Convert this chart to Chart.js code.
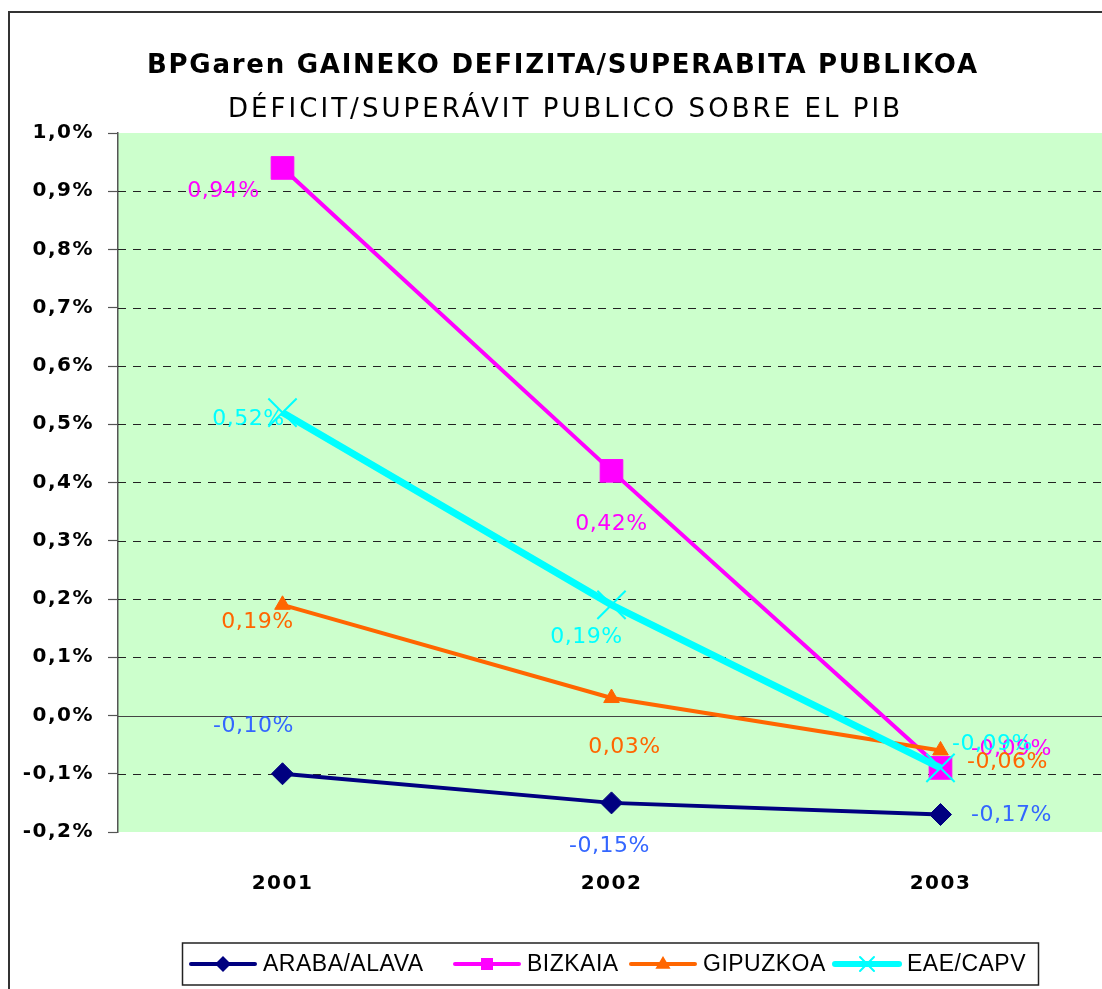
<!DOCTYPE html>
<html><head><meta charset="utf-8">
<script src="https://cdn.jsdelivr.net/npm/chart.js@4/dist/chart.umd.min.js"></script>
<style>html,body{margin:0;padding:0;overflow:hidden;background:#fff}canvas{display:block}</style>
</head><body>
<canvas id="c" width="1105" height="989"></canvas>
<script>
// ---- data ----
const years = ['2001', '2002', '2003'];
const seriesNames = ['ARABA/ALAVA', 'BIZKAIA', 'GIPUZKOA', 'EAE/CAPV'];
const araba = [-0.10, -0.15, -0.17];
const bizkaia = [0.94, 0.42, -0.09];
const gipuzkoa = [0.19, 0.03, -0.06];
const eae = [0.52, 0.19, -0.09];
const yMin = -0.2, yMax = 1.0, yStep = 0.1;
const titleText = 'BPGaren GAINEKO DEFIZITA/SUPERABITA PUBLIKOA';
const subtitleText = 'DÉFICIT/SUPERÁVIT PUBLICO SOBRE EL PIB';

// ---- styles ----
const lineColors = ['#000080', '#FF00FF', '#FF6600', '#00FFFF'];
const labelColors = ['#3366FF', '#FF00FF', '#FF6600', '#00FFFF'];
const lineWidths = [4, 4, 4, 7];
const pointStyles = ['rectRot', 'rect', 'triangle', 'crossRot'];
const pointRadii = [11, 16, 9, 20];
const labelOffsets = [
  [[-29, -47], [-2, 43], [71, 1]],
  [[-59, 23], [0, 53], [71, -19]],
  [[-25, 17], [13, 49], [67, 12]],
  [[-34, 7], [-25, 32], [52, -24]]
];
const legendX = [191, 455, 631, 835];
const legendLine = 64;
const FONT = '"DejaVu Sans", Verdana, sans-serif';

const seriesValues = [araba, bizkaia, gipuzkoa, eae];
const fmtLabel = v => v.toFixed(2).replace('.', ',') + '%';
const fmtTick = v => (Math.round(v * 10) / 10).toFixed(1).replace('.', ',') + '%';

function drawMarker(ctx, style, x, y, r, color, bw) {
  ctx.save();
  ctx.fillStyle = color; ctx.strokeStyle = color; ctx.lineWidth = bw;
  ctx.beginPath();
  if (style === 'rectRot') {
    ctx.moveTo(x, y - r); ctx.lineTo(x + r, y); ctx.lineTo(x, y + r); ctx.lineTo(x - r, y); ctx.closePath(); ctx.fill();
  } else if (style === 'rect') {
    ctx.rect(x - r, y - r, 2 * r, 2 * r); ctx.fill();
  } else if (style === 'triangle') {
    ctx.moveTo(x, y - r); ctx.lineTo(x + r * 0.95, y + r * 0.6); ctx.lineTo(x - r * 0.95, y + r * 0.6); ctx.closePath(); ctx.fill();
  } else {
    ctx.moveTo(x - r, y - r); ctx.lineTo(x + r, y + r); ctx.moveTo(x + r, y - r); ctx.lineTo(x - r, y + r); ctx.stroke();
  }
  ctx.restore();
}

const decorPlugin = {
  id: 'decor',
  beforeDraw(chart) {
    const { ctx, chartArea: a } = chart;
    ctx.save();
    ctx.fillStyle = '#CCFFCC';
    ctx.fillRect(a.left, a.top, a.right - a.left, a.bottom - a.top);
    ctx.strokeStyle = '#333'; ctx.lineWidth = 2;
    ctx.strokeRect(9, 12, 1200, 1100);
    ctx.restore();
    ctx.letterSpacing = '1.5px';
  },
  beforeDatasetsDraw(chart) {
    const { ctx, chartArea: a } = chart;
    const ys = chart.scales.y;
    ctx.save();
    ys.ticks.forEach(t => {
      const v = Math.round(t.value * 10) / 10;
      if (v === yMin || v === yMax) return;
      const y = Math.round(ys.getPixelForValue(v)) + 0.5;
      ctx.beginPath();
      if (v === 0) { ctx.setLineDash([]); ctx.strokeStyle = '#444'; ctx.lineWidth = 1.2; }
      else { ctx.setLineDash([8, 7]); ctx.strokeStyle = '#222'; ctx.lineWidth = 1; }
      ctx.moveTo(a.left, y); ctx.lineTo(a.right, y); ctx.stroke();
    });
    ctx.restore();
  },
  afterDatasetsDraw(chart) {
    const ctx = chart.ctx;
    ctx.save();
    ctx.font = '22px ' + FONT; ctx.textAlign = 'center'; ctx.textBaseline = 'middle';
    ctx.letterSpacing = '0.5px';
    chart.data.datasets.forEach((ds, i) => {
      const meta = chart.getDatasetMeta(i);
      meta.data.forEach((pt, j) => {
        const [dx, dy] = labelOffsets[i][j];
        ctx.fillStyle = labelColors[i];
        ctx.fillText(fmtLabel(ds.data[j]), pt.x + dx, pt.y + dy);
      });
    });
    ctx.restore();
  },
  afterDraw(chart) {
    const ctx = chart.ctx;
    ctx.letterSpacing = '0px';
    const drawFit = (text, font, cx, cy, target) => {
      ctx.save();
      ctx.font = font; ctx.fillStyle = '#000'; ctx.textBaseline = 'middle'; ctx.textAlign = 'left';
      ctx.letterSpacing = '0px';
      const w = ctx.measureText(text).width;
      const sp = (target - w) / (text.length - 1);
      ctx.letterSpacing = sp + 'px';
      ctx.fillText(text, cx - target / 2, cy);
      ctx.restore();
    };
    drawFit(titleText, 'bold 26px ' + FONT, 562, 66, 830);
    drawFit(subtitleText, '26px ' + FONT, 564, 110, 672);
    // legend
    ctx.save();
    ctx.strokeStyle = '#222'; ctx.lineWidth = 1.5;
    ctx.strokeRect(182.5, 943, 856, 42);
    const ly = 964;
    ctx.font = '23px "Liberation Sans", Arial, sans-serif';
    ctx.textBaseline = 'middle'; ctx.textAlign = 'left';
    ctx.letterSpacing = '0.5px';
    chart.data.datasets.forEach((ds, i) => {
      const x0 = legendX[i];
      ctx.strokeStyle = lineColors[i]; ctx.lineWidth = i === 3 ? 6 : 4; ctx.lineCap = 'round';
      ctx.beginPath(); ctx.moveTo(x0, ly); ctx.lineTo(x0 + legendLine, ly); ctx.stroke();
      const mr = [8, 6, 8, 7][i];
      drawMarker(ctx, pointStyles[i], x0 + legendLine / 2, ly, mr, lineColors[i], 2);
      ctx.fillStyle = '#000';
      ctx.fillText(ds.label, x0 + legendLine + 8, ly + 1);
    });
    ctx.restore();
  }
};

new Chart(document.getElementById('c'), {
  type: 'line',
  data: {
    labels: years,
    datasets: seriesValues.map((vals, i) => ({
      label: seriesNames[i],
      data: vals,
      borderColor: lineColors[i],
      backgroundColor: lineColors[i],
      borderWidth: lineWidths[i],
      pointStyle: pointStyles[i],
      pointRadius: pointRadii[i],
      pointHoverRadius: pointRadii[i],
      pointBackgroundColor: lineColors[i],
      pointBorderColor: lineColors[i],
      pointBorderWidth: i === 3 ? 2 : 1,
      tension: 0,
      fill: false,
      order: 4 - i,
      clip: false
    }))
  },
  options: {
    responsive: false,
    animation: false,
    devicePixelRatio: 1,
    layout: { autoPadding: false, padding: { top: 133, left: 0, right: 0, bottom: 0 } },
    plugins: { legend: { display: false }, title: { display: false }, tooltip: { enabled: false } },
    scales: {
      x: {
        type: 'category',
        offset: true,
        grid: { display: false, offset: true },
        border: { display: false },
        ticks: { color: '#000', font: { family: FONT, size: 20, weight: 'bold' }, padding: 32, maxRotation: 0 },
        afterFit(s) { s.height = 157; }
      },
      y: {
        min: yMin, max: yMax,
        grid: { drawOnChartArea: false, drawTicks: true, tickLength: 10, tickColor: '#555', tickWidth: 1.2 },
        border: { display: true, color: '#555', width: 1.5 },
        ticks: { stepSize: yStep, color: '#000', font: { family: FONT, size: 20, weight: 'bold' }, padding: 14, callback: v => fmtTick(v) },
        afterFit(s) { s.width = 118; }
      }
    }
  },
  plugins: [decorPlugin]
});
</script>
</body></html>
